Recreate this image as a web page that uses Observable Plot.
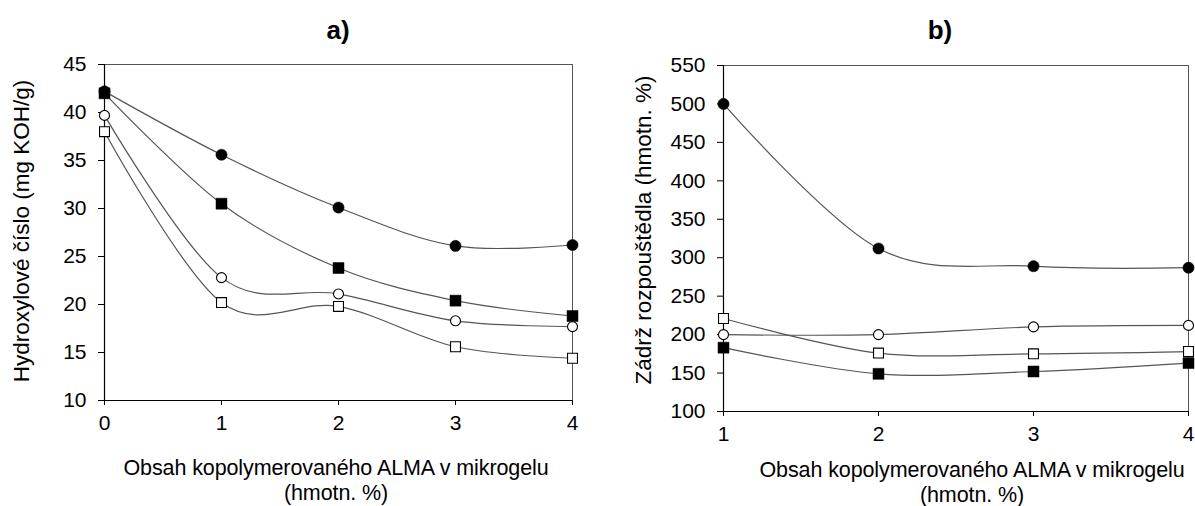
<!DOCTYPE html>
<html>
<head>
<meta charset="utf-8">
<script src="https://cdn.jsdelivr.net/npm/d3@7"></script>
<script src="https://cdn.jsdelivr.net/npm/@observablehq/plot@0.6"></script>
<style>
  html, body { margin: 0; padding: 0; background: #fff; }
  #wrap { position: relative; width: 1195px; height: 506px; font-family: "Liberation Sans", Arial, sans-serif; color: #000; overflow: hidden; }
  .abs { position: absolute; white-space: nowrap; }
  .title { font-size: 26px; font-weight: bold; transform: translate(-50%, -50%); }
  .xlab { font-size: 21.5px; text-align: center; line-height: 25px; transform: translateX(-50%); letter-spacing: -0.1px; }
  .ylab { font-size: 22.5px; transform: translate(-50%, -50%) rotate(-90deg); }
  svg { position: absolute; top: 0; }
</style>
</head>
<body>
<div id="wrap"></div>
<script>
// ---- Data: panel a) ----
const xA = [0, 1, 2, 3, 4];
const aFilledCircle = [42.2, 35.6, 30.1, 26.1, 26.2];
const aFilledSquare = [42.0, 30.5, 23.8, 20.4, 18.8];
const aOpenCircle   = [39.7, 22.8, 21.1, 18.3, 17.7];
const aOpenSquare   = [38.0, 20.2, 19.8, 15.6, 14.4];
const yTicksA = [10, 15, 20, 25, 30, 35, 40, 45];

// ---- Data: panel b) ----
const xB = [1, 2, 3, 4];
const bFilledCircle = [500, 312, 289, 287];
const bOpenCircle   = [200, 200, 210, 212];
const bOpenSquare   = [221, 176, 175, 178];
const bFilledSquare = [183, 149, 152, 163];
const yTicksB = [100, 150, 200, 250, 300, 350, 400, 450, 500, 550];

const titles = ["a)", "b)"];
const yLabels = ["Hydroxylové číslo (mg KOH/g)", "Zádrž rozpouštědla (hmotn. %)"];
const xLabelLines = ["Obsah kopolymerovaného ALMA v mikrogelu", "(hmotn. %)"];

function seriesRows(xs, ys) { return xs.map((x, i) => ({x, y: ys[i]})); }

function panel(cfg) {
  const marks = [
    Plot.frame({stroke: "#555", strokeWidth: 1})
  ];
  for (const s of cfg.series) {
    marks.push(Plot.line(seriesRows(cfg.xs, s.ys), {x: "x", y: "y", stroke: "#555", strokeWidth: 1.2, curve: "cardinal", tension: 0}));
  }
  marks.push(Plot.ruleX([cfg.xDomain[0]], {stroke: "#000", strokeWidth: 1.2}));
  marks.push(Plot.ruleY([cfg.yDomain[0]], {stroke: "#000", strokeWidth: 1.2}));
  marks.push(Plot.axisX({ticks: cfg.xs, tickSize: 5, tickPadding: 10, fontSize: 21, tickFormat: d => String(d), label: null, stroke: "#000"}));
  marks.push(Plot.axisY({ticks: cfg.yTicks, tickSize: 6, tickPadding: 12, fontSize: 21, tickFormat: d => String(d), label: null, stroke: "#000"}));
  for (const s of cfg.series) {
    const sq = s.symbol === "square";
    marks.push(Plot.dot(seriesRows(cfg.xs, s.ys), {
      x: "x", y: "y", symbol: s.symbol,
      r: sq ? (s.fill === "black" ? 6.2 : 5.6) : (s.fill === "black" ? 5.6 : 5.0),
      fill: s.fill, stroke: "#000", strokeWidth: s.fill === "black" ? 0.5 : 1.1
    }));
  }
  const svg = Plot.plot({
    width: cfg.width, height: 506,
    marginLeft: cfg.ml, marginRight: cfg.mr, marginTop: cfg.mt, marginBottom: cfg.mb,
    style: {fontFamily: '"Liberation Sans", Arial, sans-serif', color: "#000", background: "transparent", overflow: "visible"},
    x: {domain: cfg.xDomain},
    y: {domain: cfg.yDomain},
    marks
  });
  svg.style.left = cfg.left + "px";
  return svg;
}

const wrap = document.getElementById("wrap");

wrap.appendChild(panel({
  left: 0, width: 600, ml: 104, mr: 28, mt: 64, mb: 106,
  xs: xA, xDomain: [0, 4], yDomain: [10, 45], yTicks: yTicksA,
  series: [
    {ys: aFilledCircle, symbol: "circle", fill: "black"},
    {ys: aFilledSquare, symbol: "square", fill: "black"},
    {ys: aOpenCircle, symbol: "circle", fill: "white"},
    {ys: aOpenSquare, symbol: "square", fill: "white"}
  ]
}));

wrap.appendChild(panel({
  left: 600, width: 595, ml: 123, mr: 7, mt: 65, mb: 95,
  xs: xB, xDomain: [1, 4], yDomain: [100, 550], yTicks: yTicksB,
  series: [
    {ys: bFilledCircle, symbol: "circle", fill: "black"},
    {ys: bOpenCircle, symbol: "circle", fill: "white"},
    {ys: bOpenSquare, symbol: "square", fill: "white"},
    {ys: bFilledSquare, symbol: "square", fill: "black"}
  ]
}));

function addDiv(cls, html, x, y) {
  const d = document.createElement("div");
  d.className = "abs " + cls;
  d.innerHTML = html;
  d.style.left = x + "px";
  d.style.top = y + "px";
  wrap.appendChild(d);
}
addDiv("title", titles[0], 338, 30);
addDiv("title", titles[1], 940, 30);
addDiv("ylab", yLabels[0], 22, 231);
addDiv("ylab", yLabels[1], 644, 230);
addDiv("xlab", xLabelLines.join("<br>"), 336, 456);
addDiv("xlab", xLabelLines.join("<br>"), 972, 458);
</script>
</body>
</html>
